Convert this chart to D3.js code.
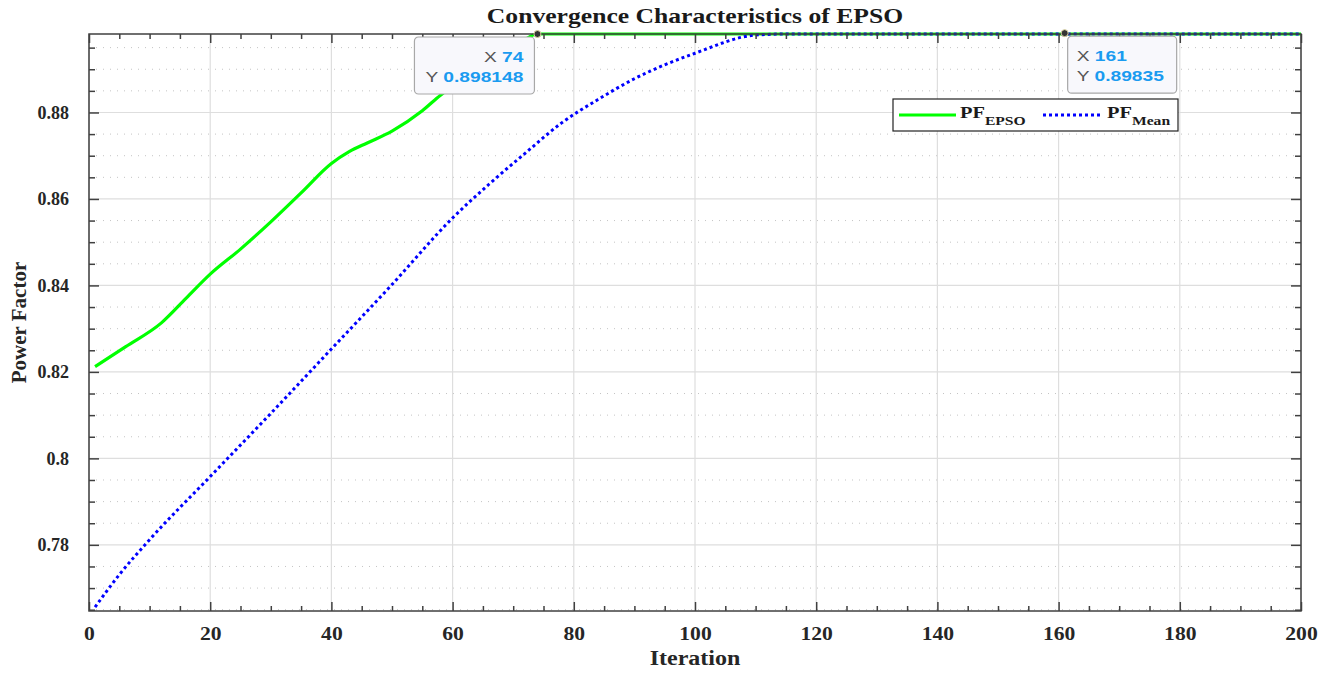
<!DOCTYPE html>
<html>
<head>
<meta charset="utf-8">
<script src="https://cdn.jsdelivr.net/npm/d3@7"></script>
<style>
    body { margin: 0; background: #fff; }
    .tick text { font-family: "Liberation Serif", serif; font-weight: bold; font-size: 18px; fill: #262626; }
</style>
</head>
<body>
<svg id="chart"></svg>
<script>
// iterations and values
var epsoIter = [1, 6, 12, 16, 20, 25, 30, 35, 40, 43, 46, 50, 55, 58, 62, 66, 70, 74, 200];
var epsoPF = [0.8212, 0.8258, 0.8314, 0.8370, 0.8426, 0.8484, 0.8547, 0.8614, 0.8682, 0.8710, 0.8730,
              0.8757, 0.8804, 0.8840, 0.8880, 0.8915, 0.8949, 0.898148, 0.898148];
var meanIter = [1, 5, 10, 20, 30, 40, 50, 60, 66, 72, 78, 84, 90, 100, 110, 115, 200];
var meanPF = [0.7656, 0.7731, 0.7812, 0.7958, 0.8104, 0.8253, 0.8402, 0.8556, 0.8634, 0.8706, 0.8776,
              0.8830, 0.8878, 0.8937, 0.8979, 0.89815, 0.89815];
var xTicks = [0, 20, 40, 60, 80, 100, 120, 140, 160, 180, 200];
var yTicks = [0.78, 0.8, 0.82, 0.84, 0.86, 0.88];
var yTickLabels = ["0.78", "0.8", "0.82", "0.84", "0.86", "0.88"];
var tipX = [74, 161];
var tipY = [0.898148, 0.89835];
var tipText = ["0.898148", "0.89835"];

var svgWidth = 1333, svgHeight = 673;
var margin = {top: 34, right: 32, bottom: 62, left: 89};
var width = svgWidth - margin.left - margin.right;
var height = svgHeight - margin.top - margin.bottom;

var x = d3.scaleLinear().domain([0, 200]).range([0, width]);
var y = d3.scaleLinear().domain([0.7647, 0.89815]).range([height, 0]);

// the source picture is a bit wider than tall, widen the glyphs to match
function stretch(sel, k) {
    sel.each(function () {
        var w = this.getComputedTextLength();
        d3.select(this).attr("textLength", w * k).attr("lengthAdjust", "spacingAndGlyphs");
    });
}

var svg = d3.select("#chart").attr("width", svgWidth).attr("height", svgHeight);
var g = svg.append("g").attr("transform", "translate(" + margin.left + "," + margin.top + ")");

// grid
var yMinor = d3.range(0.765, 0.898, 0.005).filter(function (v) {
    return yTicks.every(function (t) { return Math.abs(t - v) > 0.001; });
});
g.selectAll(".yminor").data(yMinor).enter().append("line")
    .attr("x1", 0).attr("x2", width)
    .attr("y1", function (d) { return y(d); }).attr("y2", function (d) { return y(d); })
    .attr("stroke", "#c4c4c4").attr("stroke-width", 1).attr("stroke-dasharray", "1,6");
g.selectAll(".ygrid").data(yTicks).enter().append("line")
    .attr("x1", 0).attr("x2", width)
    .attr("y1", function (d) { return y(d); }).attr("y2", function (d) { return y(d); })
    .attr("stroke", "#dedede").attr("stroke-width", 1.2);
g.selectAll(".xgrid").data(xTicks).enter().append("line")
    .attr("y1", 0).attr("y2", height)
    .attr("x1", function (d) { return x(d); }).attr("x2", function (d) { return x(d); })
    .attr("stroke", "#dedede").attr("stroke-width", 1.2);

// lines
svg.append("clipPath").attr("id", "clip").append("rect")
    .attr("x", 0).attr("y", -3).attr("width", width).attr("height", height + 3);

var epsoLine = d3.line().x(function (d, i) { return x(epsoIter[i]); }).y(function (d) { return y(d); })
    .curve(d3.curveMonotoneX);
var meanLine = d3.line().x(function (d, i) { return x(meanIter[i]); }).y(function (d) { return y(d); })
    .curve(d3.curveMonotoneX);

g.append("path").attr("d", epsoLine(epsoPF)).attr("fill", "none")
    .attr("stroke", "#00ff00").attr("stroke-width", 3.2).attr("clip-path", "url(#clip)");
g.append("path").attr("d", meanLine(meanPF)).attr("fill", "none")
    .attr("stroke", "#0000ff").attr("stroke-width", 3).attr("stroke-dasharray", "3,3")
    .attr("clip-path", "url(#clip)");

// axes (box with inward ticks)
var axisColor = "#404040";
function styleAxis(sel) {
    sel.select(".domain").remove();
    sel.selectAll(".tick line").attr("stroke", axisColor).attr("stroke-width", 1.5);
}
var xAxis = g.append("g").attr("transform", "translate(0," + height + ")")
    .call(d3.axisBottom(x).tickValues(xTicks).tickSize(-9).tickPadding(16));
styleAxis(xAxis);
stretch(xAxis.selectAll("text"), 1.2);
var xMinor = d3.range(0, 201, 5).filter(function (v) { return v % 20 !== 0; });
g.append("g").attr("transform", "translate(0," + height + ")")
    .call(d3.axisBottom(x).tickValues(xMinor).tickSize(-5).tickFormat("")).call(styleAxis);
g.append("g").call(d3.axisTop(x).tickValues(xTicks).tickSize(-9).tickFormat("")).call(styleAxis);
g.append("g").call(d3.axisTop(x).tickValues(xMinor).tickSize(-5).tickFormat("")).call(styleAxis);

var yAxis = g.append("g").call(d3.axisLeft(y).tickValues(yTicks).tickSize(-10).tickPadding(20)
    .tickFormat(function (d, i) { return yTickLabels[i]; }));
styleAxis(yAxis);
g.append("g").call(d3.axisLeft(y).tickValues(yMinor).tickSize(-6).tickFormat("")).call(styleAxis);
g.append("g").attr("transform", "translate(" + width + ",0)")
    .call(d3.axisRight(y).tickValues(yTicks).tickSize(-10).tickFormat("")).call(styleAxis);
g.append("g").attr("transform", "translate(" + width + ",0)")
    .call(d3.axisRight(y).tickValues(yMinor).tickSize(-6).tickFormat("")).call(styleAxis);

g.append("rect").attr("x", 0).attr("y", 0).attr("width", width).attr("height", height)
    .attr("fill", "none").attr("stroke", axisColor).attr("stroke-width", 1.5);

// data tips
tipX.forEach(function (tx, i) {
    var px = x(tx), py = y(tipY[i]);
    var bw = i === 0 ? 120 : 109, bh = 57;
    var bx = i === 0 ? px - bw - 3 : px + 3;
    var tip = g.append("g");
    tip.append("rect").attr("x", bx).attr("y", py + 3).attr("width", bw).attr("height", bh)
        .attr("rx", 4).attr("fill", "#f8f8fc").attr("stroke", "#a8a8a8").attr("stroke-width", 1.2);
    var anchor = i === 0 ? "end" : "start";
    var tx0 = i === 0 ? bx + bw - 11 : bx + 9;
    var rows = [["X ", String(tx)], ["Y ", tipText[i]]];
    rows.forEach(function (r, k) {
        var t = tip.append("text").attr("x", tx0).attr("y", py + 28 + k * 20)
            .attr("text-anchor", anchor).style("font-family", "'Liberation Sans', Arial, sans-serif")
            .style("font-size", "15px");
        t.append("tspan").attr("fill", "#555").text(r[0]);
        t.append("tspan").attr("fill", "#1a9bf0").attr("font-weight", "bold").text(r[1]);
        stretch(t, 1.28);
    });
    tip.append("circle").attr("cx", px).attr("cy", py).attr("r", 3.5)
        .attr("fill", "#333").attr("stroke", "#d8d0a0").attr("stroke-width", 1);
});

// legend
var leg = svg.append("g").attr("transform", "translate(893,99)");
leg.append("rect").attr("width", 285).attr("height", 32).attr("fill", "#fff")
    .attr("stroke", "#222").attr("stroke-width", 1.2);
leg.append("line").attr("x1", 6).attr("x2", 63).attr("y1", 16).attr("y2", 16)
    .attr("stroke", "#00ff00").attr("stroke-width", 3.2);
leg.append("line").attr("x1", 150).attr("x2", 207).attr("y1", 16).attr("y2", 16)
    .attr("stroke", "#0000ff").attr("stroke-width", 3).attr("stroke-dasharray", "3,3");
var legNames = [["PF", "EPSO", 67], ["PF", "Mean", 214]];
legNames.forEach(function (n) {
    var t = leg.append("text").attr("x", n[2]).attr("y", 19)
        .style("font-family", "'Liberation Serif', serif").style("font-weight", "bold")
        .style("font-size", "17px").attr("fill", "#1a1a1a");
    t.append("tspan").text(n[0]);
    t.append("tspan").attr("dy", 7).style("font-size", "13px").text(n[1]);
    stretch(t, 1.2);
});

// title and axis labels
var title = svg.append("text").attr("x", margin.left + width / 2).attr("y", 23).attr("text-anchor", "middle")
    .style("font-family", "'Liberation Serif', serif").style("font-weight", "bold")
    .style("font-size", "21px").attr("fill", "#1a1a1a").text("Convergence Characteristics of EPSO");
stretch(title, 1.22);
var xlab = svg.append("text").attr("x", margin.left + width / 2).attr("y", 665).attr("text-anchor", "middle")
    .style("font-family", "'Liberation Serif', serif").style("font-weight", "bold")
    .style("font-size", "20px").attr("fill", "#262626").text("Iteration");
stretch(xlab, 1.2);
svg.append("text").attr("transform", "translate(26," + (margin.top + height / 2) + ") rotate(-90)")
    .attr("text-anchor", "middle")
    .style("font-family", "'Liberation Serif', serif").style("font-weight", "bold")
    .style("font-size", "21px").attr("fill", "#262626").text("Power Factor");
</script>
</body>
</html>
